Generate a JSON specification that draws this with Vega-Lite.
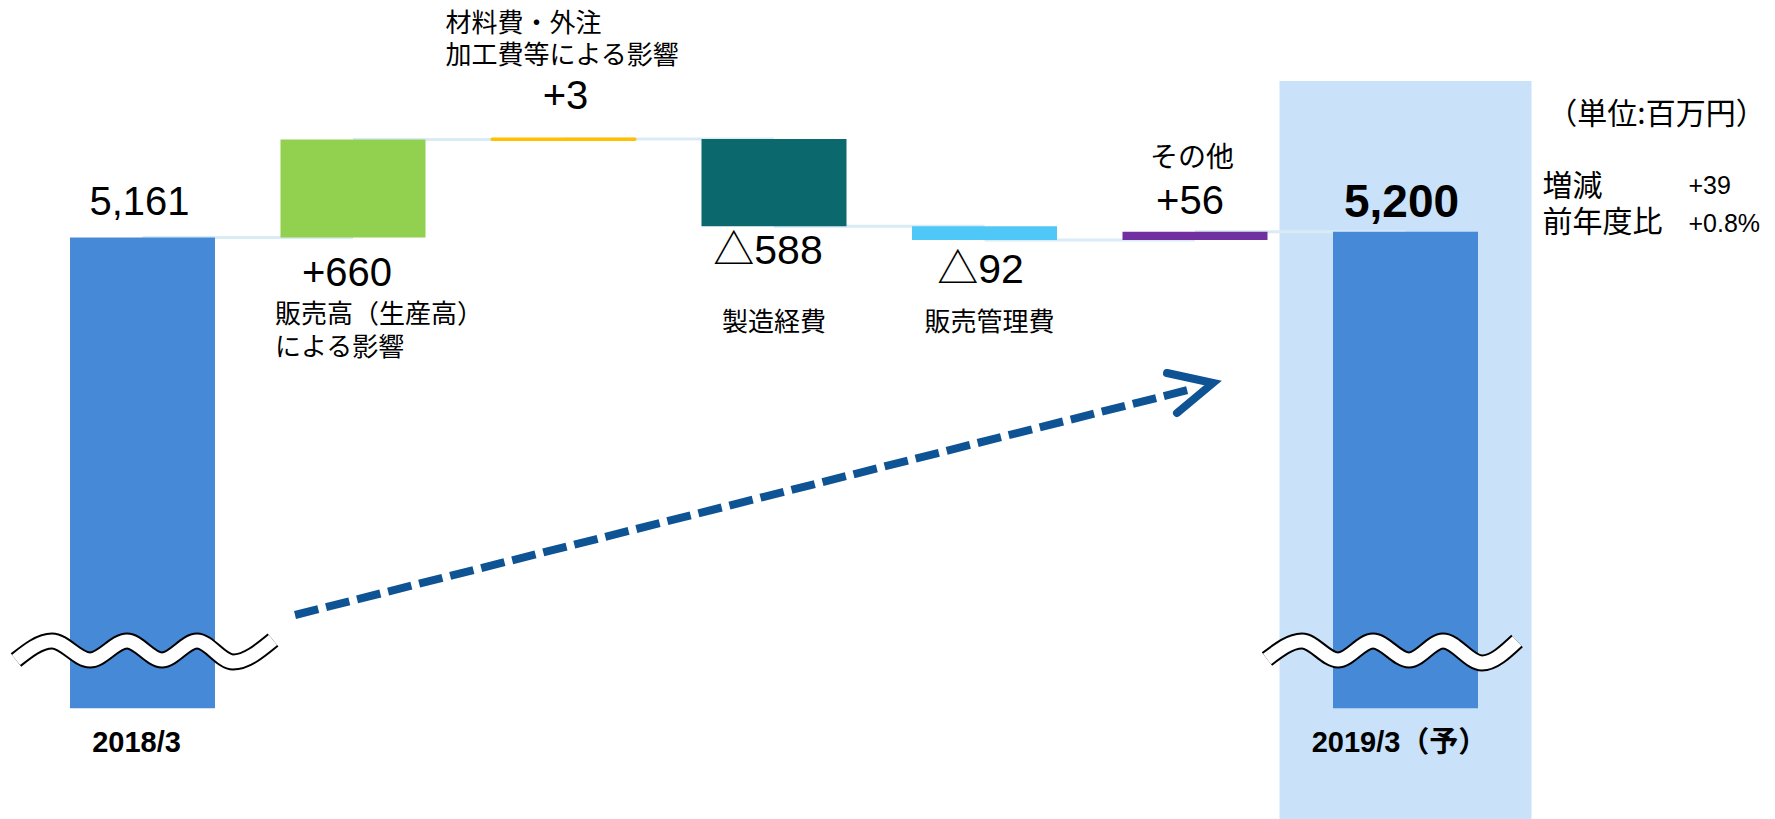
{
  "$schema": "https://vega.github.io/schema/vega-lite/v6.json",
  "width": 1775,
  "height": 819,
  "autosize": {"type": "none"},
  "padding": 0,
  "background": "#FFFFFF",
  "config": {"view": {"stroke": null}, "axis": {"disable": true}, "legend": {"disable": true}, "scale": {"continuousPadding": 0}},
  "datasets": {
    "steps": [
      {"pos": 1, "kind": "total", "item": "2018/3", "label": "5,161", "start": 0, "end": 5161},
      {"pos": 2, "kind": "delta", "item": "販売高（生産高）\nによる影響", "label": "+660", "start": 5161, "end": 5821},
      {"pos": 3, "kind": "delta", "item": "材料費・外注\n加工費等による影響", "label": "+3", "start": 5821, "end": 5824},
      {"pos": 4, "kind": "delta", "item": "製造経費", "label": "△588", "start": 5824, "end": 5236},
      {"pos": 5, "kind": "delta", "item": "販売管理費", "label": "△92", "start": 5236, "end": 5144},
      {"pos": 6, "kind": "delta", "item": "その他", "label": "+56", "start": 5144, "end": 5200},
      {"pos": 7, "kind": "total", "item": "2019/3（予）", "label": "5,200", "start": 0, "end": 5200}
    ],
    "summary": [
      {"pos": 7, "name": "増減", "value": "+39"},
      {"pos": 7, "name": "前年度比", "value": "+0.8%"}
    ],
    "notes": [{"pos": 7, "text": "（単位:百万円）"}],
    "breaks": [
      {"wave": 1, "i": 1, "x": 0.3990, "y": 2315.7},
      {"wave": 1, "i": 2, "x": 0.5701, "y": 2443.6},
      {"wave": 1, "i": 3, "x": 0.7506, "y": 2315.7},
      {"wave": 1, "i": 4, "x": 0.9264, "y": 2443.6},
      {"wave": 1, "i": 5, "x": 1.0926, "y": 2315.7},
      {"wave": 1, "i": 6, "x": 1.2589, "y": 2443.6},
      {"wave": 1, "i": 7, "x": 1.4299, "y": 2302.2},
      {"wave": 1, "i": 8, "x": 1.6200, "y": 2450.4},
      {"wave": 2, "i": 1, "x": 6.3420, "y": 2322.4},
      {"wave": 2, "i": 2, "x": 6.5083, "y": 2443.6},
      {"wave": 2, "i": 3, "x": 6.6793, "y": 2315.7},
      {"wave": 2, "i": 4, "x": 6.8456, "y": 2443.6},
      {"wave": 2, "i": 5, "x": 7.0166, "y": 2315.7},
      {"wave": 2, "i": 6, "x": 7.1782, "y": 2443.6},
      {"wave": 2, "i": 7, "x": 7.3634, "y": 2295.5},
      {"wave": 2, "i": 8, "x": 7.5297, "y": 2443.6}
    ],
    "arrow": [
      {"part": "shaft", "i": 1, "x": 1.7245, "y": 2618.7},
      {"part": "shaft", "i": 2, "x": 5.9668, "y": 4133.8},
      {"part": "head", "i": 1, "x": 5.8670, "y": 4248.3},
      {"part": "head", "i": 2, "x": 6.0855, "y": 4180.9},
      {"part": "head", "i": 3, "x": 5.9145, "y": 3978.9}
    ]
  },
  "layer": [
    {
      "data": {"name": "steps"},
      "transform": [{"filter": "datum.pos == 7"}],
      "mark": {"type": "bar", "width": 252, "color": "#C9E2F9"},
      "encoding": {
        "x": {"field": "pos", "type": "quantitative", "scale": {"domain": [0.32304, 8.75534], "nice": false, "zero": false, "padding": 0}},
        "y": {"datum": 6215, "type": "quantitative", "scale": {"domain": [1245, 6760], "nice": false, "zero": false, "padding": 0}},
        "y2": {"datum": 1245}
      }
    },
    {
      "data": {"name": "steps"},
      "transform": [
        {"window": [{"op": "lead", "field": "pos", "as": "next"}], "sort": [{"field": "pos", "order": "ascending"}]},
        {"filter": "datum.next != null"}
      ],
      "mark": {"type": "rule", "color": "#D9ECF6", "strokeWidth": 3},
      "encoding": {
        "x": {"field": "pos", "type": "quantitative", "scale": {"domain": [0.32304, 8.75534], "nice": false, "zero": false, "padding": 0}},
        "x2": {"field": "next"},
        "y": {"field": "end", "type": "quantitative", "scale": {"domain": [1245, 6760], "nice": false, "zero": false, "padding": 0}}
      }
    },
    {
      "data": {"name": "steps"},
      "transform": [{"filter": "datum.kind == 'total'"}],
      "mark": {"type": "bar", "width": 145, "color": "#4689D6"},
      "encoding": {
        "x": {"field": "pos", "type": "quantitative", "scale": {"domain": [0.32304, 8.75534], "nice": false, "zero": false, "padding": 0}},
        "y": {"field": "end", "type": "quantitative", "scale": {"domain": [1245, 6760], "nice": false, "zero": false, "padding": 0}},
        "y2": {"datum": 1990}
      }
    },
    {
      "data": {"name": "steps"},
      "transform": [{"filter": "datum.kind == 'delta'"}],
      "mark": {"type": "bar", "width": 145},
      "encoding": {
        "x": {"field": "pos", "type": "quantitative", "scale": {"domain": [0.32304, 8.75534], "nice": false, "zero": false, "padding": 0}},
        "y": {"field": "start", "type": "quantitative", "scale": {"domain": [1245, 6760], "nice": false, "zero": false, "padding": 0}},
        "y2": {"field": "end"},
        "color": {"field": "pos", "type": "nominal", "scale": {"domain": [2, 3, 4, 5, 6], "range": ["#92D050", "#FFC000", "#0B686C", "#4FC8F8", "#7030A0"]}, "legend": null}
      }
    },
    {
      "data": {"name": "steps"},
      "transform": [{"filter": "datum.pos == 3"}],
      "mark": {"type": "bar", "width": 143, "color": "#FFC000", "stroke": "#FFC000", "strokeWidth": 3, "cornerRadius": 1},
      "encoding": {
        "x": {"field": "pos", "type": "quantitative", "scale": {"domain": [0.32304, 8.75534], "nice": false, "zero": false, "padding": 0}},
        "y": {"field": "start", "type": "quantitative", "scale": {"domain": [1245, 6760], "nice": false, "zero": false, "padding": 0}},
        "y2": {"field": "end"}
      }
    },
    {
      "data": {"name": "breaks"},
      "mark": {"type": "line", "color": "#000000", "strokeWidth": 17, "interpolate": "monotone", "strokeCap": "butt"},
      "encoding": {
        "x": {"field": "x", "type": "quantitative", "scale": {"domain": [0.32304, 8.75534], "nice": false, "zero": false, "padding": 0}},
        "y": {"field": "y", "type": "quantitative", "scale": {"domain": [1245, 6760], "nice": false, "zero": false, "padding": 0}},
        "detail": {"field": "wave", "type": "nominal"},
        "order": {"field": "i", "type": "quantitative"}
      }
    },
    {
      "data": {"name": "breaks"},
      "mark": {"type": "line", "color": "#FFFFFF", "strokeWidth": 13, "interpolate": "monotone", "strokeCap": "butt"},
      "encoding": {
        "x": {"field": "x", "type": "quantitative", "scale": {"domain": [0.32304, 8.75534], "nice": false, "zero": false, "padding": 0}},
        "y": {"field": "y", "type": "quantitative", "scale": {"domain": [1245, 6760], "nice": false, "zero": false, "padding": 0}},
        "detail": {"field": "wave", "type": "nominal"},
        "order": {"field": "i", "type": "quantitative"}
      }
    },
    {
      "data": {"name": "arrow"},
      "transform": [{"filter": "datum.part == 'shaft'"}],
      "mark": {"type": "line", "color": "#0E5494", "strokeWidth": 8, "strokeDash": [24, 8], "strokeCap": "butt"},
      "encoding": {
        "x": {"field": "x", "type": "quantitative", "scale": {"domain": [0.32304, 8.75534], "nice": false, "zero": false, "padding": 0}},
        "y": {"field": "y", "type": "quantitative", "scale": {"domain": [1245, 6760], "nice": false, "zero": false, "padding": 0}},
        "order": {"field": "i", "type": "quantitative"}
      }
    },
    {
      "data": {"name": "arrow"},
      "transform": [{"filter": "datum.part == 'head'"}],
      "mark": {"type": "line", "color": "#0E5494", "strokeWidth": 8, "strokeCap": "round", "strokeJoin": "miter"},
      "encoding": {
        "x": {"field": "x", "type": "quantitative", "scale": {"domain": [0.32304, 8.75534], "nice": false, "zero": false, "padding": 0}},
        "y": {"field": "y", "type": "quantitative", "scale": {"domain": [1245, 6760], "nice": false, "zero": false, "padding": 0}},
        "order": {"field": "i", "type": "quantitative"}
      }
    },
    {
      "data": {"name": "steps"},
      "transform": [{"filter": "datum.pos == 1"}],
      "mark": {"type": "text", "font": "Liberation Sans, Noto Sans CJK JP", "fontSize": 40, "baseline": "middle", "align": "center", "dx": -3, "dy": -34, "color": "#000000"},
      "encoding": {
        "x": {"field": "pos", "type": "quantitative", "scale": {"domain": [0.32304, 8.75534], "nice": false, "zero": false, "padding": 0}},
        "y": {"field": "end", "type": "quantitative", "scale": {"domain": [1245, 6760], "nice": false, "zero": false, "padding": 0}},
        "text": {"field": "label"}
      }
    },
    {
      "data": {"name": "steps"},
      "transform": [{"filter": "datum.pos == 2"}],
      "mark": {"type": "text", "font": "Liberation Sans, Noto Sans CJK JP", "fontSize": 40, "baseline": "middle", "align": "center", "dx": -6, "dy": 37, "color": "#000000"},
      "encoding": {
        "x": {"field": "pos", "type": "quantitative", "scale": {"domain": [0.32304, 8.75534], "nice": false, "zero": false, "padding": 0}},
        "y": {"field": "start", "type": "quantitative", "scale": {"domain": [1245, 6760], "nice": false, "zero": false, "padding": 0}},
        "text": {"field": "label"}
      }
    },
    {
      "data": {"name": "steps"},
      "transform": [{"filter": "datum.pos == 3"}],
      "mark": {"type": "text", "font": "Liberation Sans, Noto Sans CJK JP", "fontSize": 40, "baseline": "middle", "align": "center", "dx": 2, "dy": -42, "color": "#000000"},
      "encoding": {
        "x": {"field": "pos", "type": "quantitative", "scale": {"domain": [0.32304, 8.75534], "nice": false, "zero": false, "padding": 0}},
        "y": {"field": "end", "type": "quantitative", "scale": {"domain": [1245, 6760], "nice": false, "zero": false, "padding": 0}},
        "text": {"field": "label"}
      }
    },
    {
      "data": {"name": "steps"},
      "transform": [{"filter": "datum.pos == 4"}],
      "mark": {"type": "text", "font": "Liberation Sans, Noto Sans CJK JP", "fontSize": 41, "baseline": "middle", "align": "center", "dx": -6, "dy": 26, "color": "#000000"},
      "encoding": {
        "x": {"field": "pos", "type": "quantitative", "scale": {"domain": [0.32304, 8.75534], "nice": false, "zero": false, "padding": 0}},
        "y": {"field": "end", "type": "quantitative", "scale": {"domain": [1245, 6760], "nice": false, "zero": false, "padding": 0}},
        "text": {"field": "label"}
      }
    },
    {
      "data": {"name": "steps"},
      "transform": [{"filter": "datum.pos == 5"}],
      "mark": {"type": "text", "font": "Liberation Sans, Noto Sans CJK JP", "fontSize": 41, "baseline": "middle", "align": "center", "dx": -4, "dy": 31, "color": "#000000"},
      "encoding": {
        "x": {"field": "pos", "type": "quantitative", "scale": {"domain": [0.32304, 8.75534], "nice": false, "zero": false, "padding": 0}},
        "y": {"field": "end", "type": "quantitative", "scale": {"domain": [1245, 6760], "nice": false, "zero": false, "padding": 0}},
        "text": {"field": "label"}
      }
    },
    {
      "data": {"name": "steps"},
      "transform": [{"filter": "datum.pos == 6"}],
      "mark": {"type": "text", "font": "Liberation Sans, Noto Sans CJK JP", "fontSize": 40, "baseline": "middle", "align": "center", "dx": -5, "dy": -30, "color": "#000000"},
      "encoding": {
        "x": {"field": "pos", "type": "quantitative", "scale": {"domain": [0.32304, 8.75534], "nice": false, "zero": false, "padding": 0}},
        "y": {"field": "end", "type": "quantitative", "scale": {"domain": [1245, 6760], "nice": false, "zero": false, "padding": 0}},
        "text": {"field": "label"}
      }
    },
    {
      "data": {"name": "steps"},
      "transform": [{"filter": "datum.pos == 7"}],
      "mark": {"type": "text", "font": "Liberation Sans, Noto Sans CJK JP", "fontSize": 46, "fontWeight": "bold", "baseline": "middle", "align": "center", "dx": -4, "dy": -29, "color": "#000000"},
      "encoding": {
        "x": {"field": "pos", "type": "quantitative", "scale": {"domain": [0.32304, 8.75534], "nice": false, "zero": false, "padding": 0}},
        "y": {"field": "end", "type": "quantitative", "scale": {"domain": [1245, 6760], "nice": false, "zero": false, "padding": 0}},
        "text": {"field": "label"}
      }
    },
    {
      "data": {"name": "steps"},
      "transform": [{"filter": "datum.kind == 'total'"}],
      "mark": {"type": "text", "font": "Liberation Sans, Noto Sans CJK JP", "fontSize": 29, "fontWeight": "bold", "baseline": "middle", "align": "center", "dx": -6, "dy": 35, "color": "#000000"},
      "encoding": {
        "x": {"field": "pos", "type": "quantitative", "scale": {"domain": [0.32304, 8.75534], "nice": false, "zero": false, "padding": 0}},
        "y": {"datum": 1990, "type": "quantitative", "scale": {"domain": [1245, 6760], "nice": false, "zero": false, "padding": 0}},
        "text": {"field": "item"}
      }
    },
    {
      "data": {"name": "steps"},
      "transform": [{"filter": "datum.pos == 2"}],
      "mark": {"type": "text", "font": "Noto Sans CJK JP", "fontSize": 26, "baseline": "top", "align": "left", "lineBreak": "\n", "lineHeight": 33, "dx": -78, "dy": 65, "color": "#000000"},
      "encoding": {
        "x": {"field": "pos", "type": "quantitative", "scale": {"domain": [0.32304, 8.75534], "nice": false, "zero": false, "padding": 0}},
        "y": {"field": "start", "type": "quantitative", "scale": {"domain": [1245, 6760], "nice": false, "zero": false, "padding": 0}},
        "text": {"field": "item"}
      }
    },
    {
      "data": {"name": "steps"},
      "transform": [{"filter": "datum.pos == 3"}],
      "mark": {"type": "text", "font": "Noto Sans CJK JP", "fontSize": 26, "baseline": "top", "align": "left", "lineBreak": "\n", "lineHeight": 32, "dx": -118, "dy": -128, "color": "#000000"},
      "encoding": {
        "x": {"field": "pos", "type": "quantitative", "scale": {"domain": [0.32304, 8.75534], "nice": false, "zero": false, "padding": 0}},
        "y": {"field": "end", "type": "quantitative", "scale": {"domain": [1245, 6760], "nice": false, "zero": false, "padding": 0}},
        "text": {"field": "item"}
      }
    },
    {
      "data": {"name": "steps"},
      "transform": [{"filter": "datum.pos == 4"}],
      "mark": {"type": "text", "font": "Noto Sans CJK JP", "fontSize": 26, "baseline": "middle", "align": "center", "dx": 0, "dy": 97, "color": "#000000"},
      "encoding": {
        "x": {"field": "pos", "type": "quantitative", "scale": {"domain": [0.32304, 8.75534], "nice": false, "zero": false, "padding": 0}},
        "y": {"field": "end", "type": "quantitative", "scale": {"domain": [1245, 6760], "nice": false, "zero": false, "padding": 0}},
        "text": {"field": "item"}
      }
    },
    {
      "data": {"name": "steps"},
      "transform": [{"filter": "datum.pos == 5"}],
      "mark": {"type": "text", "font": "Noto Sans CJK JP", "fontSize": 26, "baseline": "middle", "align": "center", "dx": 5, "dy": 83, "color": "#000000"},
      "encoding": {
        "x": {"field": "pos", "type": "quantitative", "scale": {"domain": [0.32304, 8.75534], "nice": false, "zero": false, "padding": 0}},
        "y": {"field": "end", "type": "quantitative", "scale": {"domain": [1245, 6760], "nice": false, "zero": false, "padding": 0}},
        "text": {"field": "item"}
      }
    },
    {
      "data": {"name": "steps"},
      "transform": [{"filter": "datum.pos == 6"}],
      "mark": {"type": "text", "font": "Noto Sans CJK JP", "fontSize": 28, "baseline": "middle", "align": "center", "dx": -3, "dy": -73, "color": "#000000"},
      "encoding": {
        "x": {"field": "pos", "type": "quantitative", "scale": {"domain": [0.32304, 8.75534], "nice": false, "zero": false, "padding": 0}},
        "y": {"field": "end", "type": "quantitative", "scale": {"domain": [1245, 6760], "nice": false, "zero": false, "padding": 0}},
        "text": {"field": "item"}
      }
    },
    {
      "data": {"name": "notes"},
      "mark": {"type": "text", "font": "Noto Sans CJK JP", "fontSize": 30, "baseline": "middle", "align": "center", "dx": 251, "dy": -117, "color": "#000000"},
      "encoding": {
        "x": {"field": "pos", "type": "quantitative", "scale": {"domain": [0.32304, 8.75534], "nice": false, "zero": false, "padding": 0}},
        "y": {"datum": 5200, "type": "quantitative", "scale": {"domain": [1245, 6760], "nice": false, "zero": false, "padding": 0}},
        "text": {"field": "text"}
      }
    },
    {
      "data": {"name": "summary"},
      "transform": [{"filter": "datum.name == '増減'"}],
      "mark": {"type": "text", "font": "Noto Sans CJK JP", "fontSize": 30, "baseline": "middle", "align": "left", "dx": 137, "dy": -45, "color": "#000000"},
      "encoding": {
        "x": {"field": "pos", "type": "quantitative", "scale": {"domain": [0.32304, 8.75534], "nice": false, "zero": false, "padding": 0}},
        "y": {"datum": 5200, "type": "quantitative", "scale": {"domain": [1245, 6760], "nice": false, "zero": false, "padding": 0}},
        "text": {"field": "name"}
      }
    },
    {
      "data": {"name": "summary"},
      "transform": [{"filter": "datum.name == '前年度比'"}],
      "mark": {"type": "text", "font": "Noto Sans CJK JP", "fontSize": 30, "baseline": "middle", "align": "left", "dx": 137, "dy": -9, "color": "#000000"},
      "encoding": {
        "x": {"field": "pos", "type": "quantitative", "scale": {"domain": [0.32304, 8.75534], "nice": false, "zero": false, "padding": 0}},
        "y": {"datum": 5200, "type": "quantitative", "scale": {"domain": [1245, 6760], "nice": false, "zero": false, "padding": 0}},
        "text": {"field": "name"}
      }
    },
    {
      "data": {"name": "summary"},
      "transform": [{"filter": "datum.name == '増減'"}],
      "mark": {"type": "text", "font": "Liberation Sans", "fontSize": 25, "baseline": "middle", "align": "left", "dx": 283, "dy": -46, "color": "#000000"},
      "encoding": {
        "x": {"field": "pos", "type": "quantitative", "scale": {"domain": [0.32304, 8.75534], "nice": false, "zero": false, "padding": 0}},
        "y": {"datum": 5200, "type": "quantitative", "scale": {"domain": [1245, 6760], "nice": false, "zero": false, "padding": 0}},
        "text": {"field": "value"}
      }
    },
    {
      "data": {"name": "summary"},
      "transform": [{"filter": "datum.name == '前年度比'"}],
      "mark": {"type": "text", "font": "Liberation Sans", "fontSize": 25, "baseline": "middle", "align": "left", "dx": 283, "dy": -8, "color": "#000000"},
      "encoding": {
        "x": {"field": "pos", "type": "quantitative", "scale": {"domain": [0.32304, 8.75534], "nice": false, "zero": false, "padding": 0}},
        "y": {"datum": 5200, "type": "quantitative", "scale": {"domain": [1245, 6760], "nice": false, "zero": false, "padding": 0}},
        "text": {"field": "value"}
      }
    }
  ]
}
